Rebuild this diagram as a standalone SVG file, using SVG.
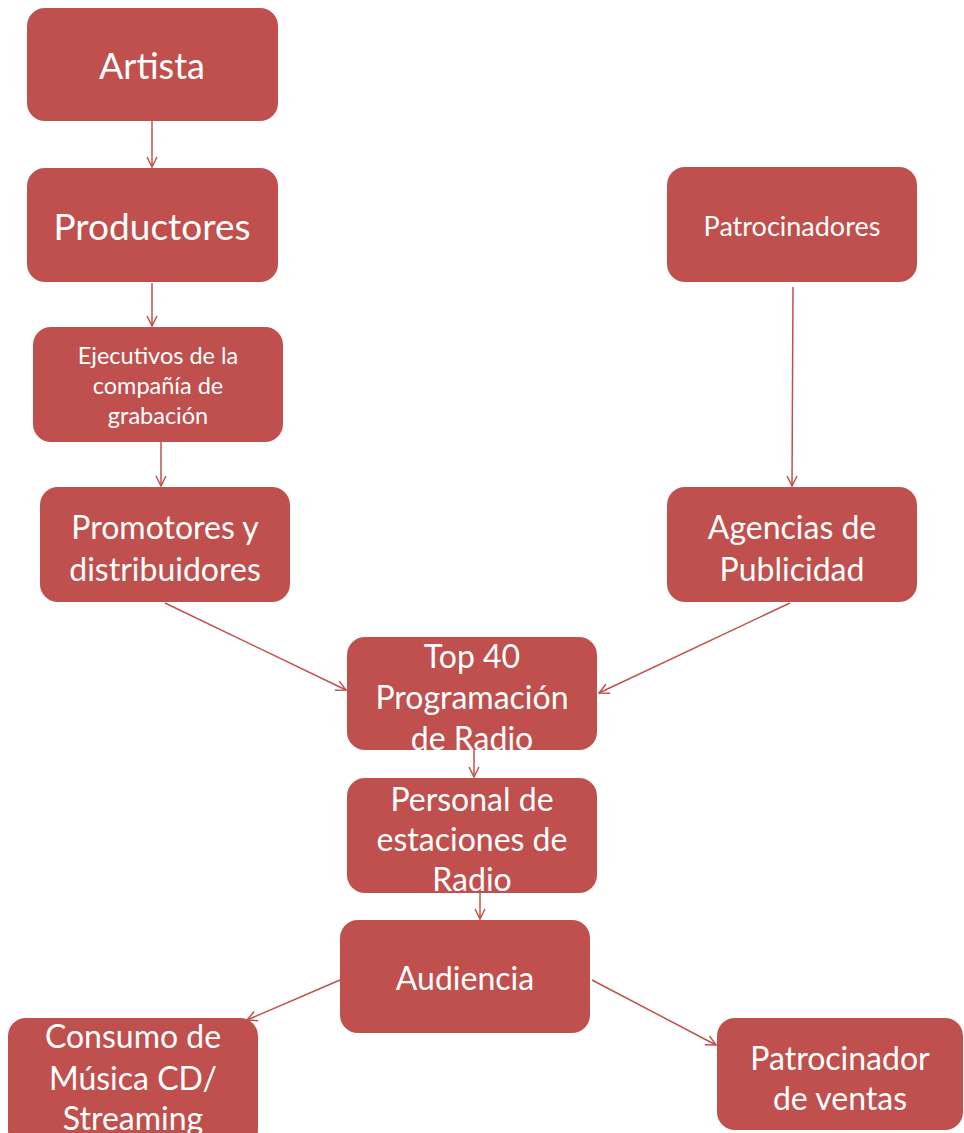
<svg xmlns="http://www.w3.org/2000/svg" width="964" height="1133" viewBox="0 0 964 1133">
  <defs>
    <marker id="arrow" viewBox="0 0 12 12" refX="11" refY="6" markerWidth="12" markerHeight="12" markerUnits="userSpaceOnUse" orient="auto">
      <path d="M1,1 L11,6 L1,11" fill="none" stroke="#c0504d" stroke-width="1.5"/>
    </marker>
  </defs>
  <style>
    .box { fill: #c0504d; }
    .label { fill: #ffffff; font-family: Lato, "Liberation Sans", sans-serif; text-anchor: middle; dominant-baseline: central; }
    .edge { stroke: #c0504d; stroke-width: 1.5; fill: none; marker-end: url(#arrow); }
  </style>
  <rect width="964" height="1133" fill="#ffffff"/>

  <g id="connectors">
    <line class="edge" x1="152" y1="121" x2="152" y2="167"/>
    <line class="edge" x1="152" y1="283" x2="152" y2="326"/>
    <line class="edge" x1="161" y1="442" x2="161" y2="486"/>
    <line class="edge" x1="793" y1="287" x2="792" y2="486"/>
    <line class="edge" x1="165" y1="603" x2="346" y2="690"/>
    <line class="edge" x1="790" y1="603" x2="599" y2="693"/>
    <line class="edge" x1="474" y1="750" x2="474" y2="777"/>
    <line class="edge" x1="480" y1="893" x2="480" y2="919"/>
    <line class="edge" x1="340" y1="980" x2="247" y2="1020"/>
    <line class="edge" x1="592" y1="980" x2="716" y2="1045"/>
  </g>

  <g id="artista">
    <rect class="box" x="27" y="8" width="251" height="113" rx="18"/>
    <text class="label" x="152" y="65" font-size="36">Artista</text>
  </g>
  <g id="productores">
    <rect class="box" x="27" y="168" width="251" height="114" rx="18"/>
    <text class="label" x="152" y="225" font-size="37">Productores</text>
  </g>
  <g id="ejecutivos">
    <rect class="box" x="33" y="327" width="250" height="115" rx="18"/>
    <text class="label" font-size="23.5"><tspan x="158" y="355">Ejecutivos de la</tspan><tspan x="158" y="385">compañía de</tspan><tspan x="158" y="415">grabación</tspan></text>
  </g>
  <g id="promotores">
    <rect class="box" x="40" y="487" width="250" height="115" rx="18"/>
    <text class="label" font-size="32"><tspan x="165" y="526">Promotores y</tspan><tspan x="165" y="568">distribuidores</tspan></text>
  </g>
  <g id="patrocinadores">
    <rect class="box" x="667" y="167" width="250" height="115" rx="18"/>
    <text class="label" x="792" y="225" font-size="27">Patrocinadores</text>
  </g>
  <g id="agencias">
    <rect class="box" x="667" y="487" width="250" height="115" rx="18"/>
    <text class="label" font-size="32"><tspan x="792" y="526">Agencias de</tspan><tspan x="792" y="568">Publicidad</tspan></text>
  </g>
  <g id="top40">
    <rect class="box" x="347" y="637" width="250" height="113" rx="18"/>
    <text class="label" font-size="32"><tspan x="472" y="655">Top 40</tspan><tspan x="472" y="696">Programación</tspan><tspan x="472" y="737">de Radio</tspan></text>
  </g>
  <g id="personal">
    <rect class="box" x="347" y="778" width="250" height="115" rx="18"/>
    <text class="label" font-size="32"><tspan x="472" y="798">Personal de</tspan><tspan x="472" y="838">estaciones de</tspan><tspan x="472" y="878">Radio</tspan></text>
  </g>
  <g id="audiencia">
    <rect class="box" x="340" y="920" width="250" height="113" rx="18"/>
    <text class="label" x="465" y="977" font-size="32">Audiencia</text>
  </g>
  <g id="consumo">
    <rect class="box" x="8" y="1018" width="250" height="130" rx="18"/>
    <text class="label" font-size="32"><tspan x="133" y="1035">Consumo de</tspan><tspan x="133" y="1077">Música CD/</tspan><tspan x="133" y="1117">Streaming</tspan></text>
  </g>
  <g id="patrocinador-ventas">
    <rect class="box" x="717" y="1018" width="246" height="112" rx="18"/>
    <text class="label" font-size="32"><tspan x="840" y="1057">Patrocinador</tspan><tspan x="840" y="1097">de ventas</tspan></text>
  </g>
</svg>
